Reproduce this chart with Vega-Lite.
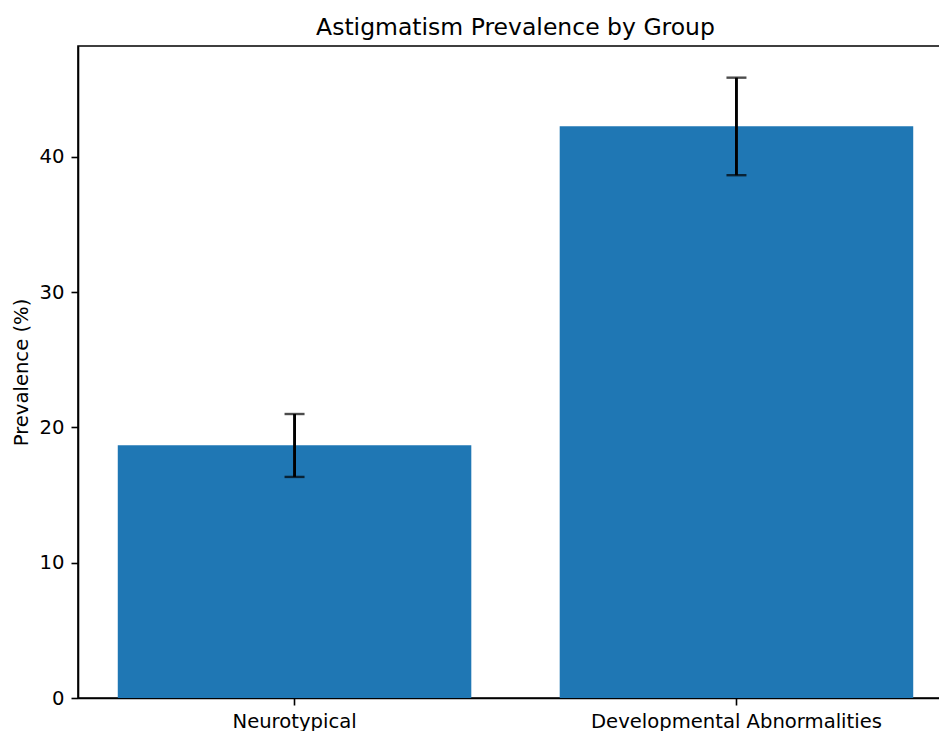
{
  "$schema": "https://vega.github.io/schema/vega-lite/v6.json",
  "autosize": {"type": "none"},
  "padding": {"left": 78, "top": 46, "right": 0, "bottom": 33},
  "width": 875,
  "height": 652,
  "background": "white",
  "title": {"text": "Astigmatism Prevalence by Group", "font": "DejaVu Sans", "fontSize": 23.5, "fontWeight": "normal", "color": "black", "offset": 7},
  "config": {
    "view": {"stroke": "black", "strokeWidth": 1.6},
    "axis": {"labelFont": "DejaVu Sans", "titleFont": "DejaVu Sans", "labelFontSize": 19.6, "titleFontSize": 19.6, "titleFontWeight": "normal", "labelColor": "black", "titleColor": "black", "domainColor": "black", "tickColor": "black", "tickSize": 7, "tickWidth": 1.6, "domainWidth": 1.6, "grid": false, "labelPadding": 7, "labelLimit": 0}
  },
  "data": {"values": [
    {"group": "Neurotypical", "prevalence": 18.69, "lo": 16.34, "hi": 20.99},
    {"group": "Developmental Abnormalities", "prevalence": 42.26, "lo": 38.64, "hi": 45.85}
  ]},
  "encoding": {
    "x": {"field": "group", "type": "nominal", "sort": null,
      "scale": {"paddingInner": 0.2, "paddingOuter": 0.09},
      "axis": {"title": null, "labelAngle": 0}}
  },
  "layer": [
    {"mark": {"type": "bar", "color": "#1f77b4"},
     "encoding": {"y": {"field": "prevalence", "type": "quantitative", "scale": {"domain": [0, 48.19], "nice": false},
       "axis": {"title": "Prevalence (%)", "values": [0, 10, 20, 30, 40], "titlePadding": 8}}}},
    {"mark": {"type": "rule", "color": "black", "strokeWidth": 2.9},
     "encoding": {"y": {"field": "lo", "type": "quantitative"}, "y2": {"field": "hi"}}},
    {"mark": {"type": "tick", "color": "black", "thickness": 2.4, "size": 20, "orient": "horizontal"},
     "encoding": {"y": {"field": "lo", "type": "quantitative"}}},
    {"mark": {"type": "tick", "color": "black", "thickness": 2.4, "size": 20, "orient": "horizontal"},
     "encoding": {"y": {"field": "hi", "type": "quantitative"}}}
  ]
}
